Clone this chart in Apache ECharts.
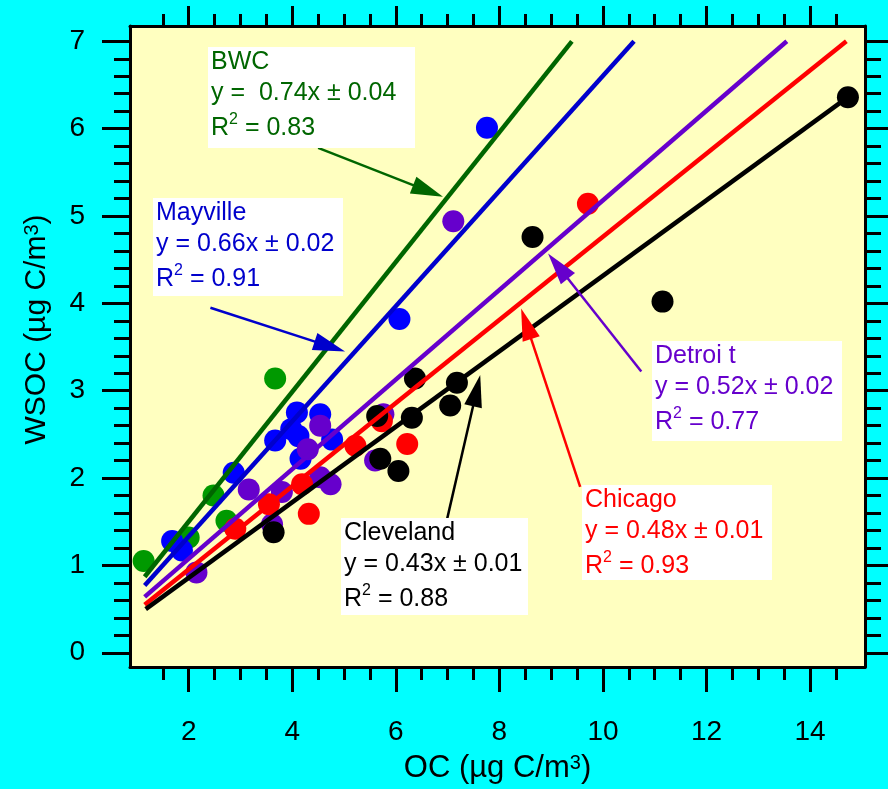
<!DOCTYPE html>
<html>
<head>
<meta charset="utf-8">
<script src="https://cdn.jsdelivr.net/npm/echarts@6/dist/echarts.min.js"></script>
<style>
html,body{margin:0;padding:0;background:#00FFFF;}
#chart{width:888px;height:789px;}
</style>
</head>
<body>
<div id="chart"></div>
<script>
// ---- data (x = OC, y = WSOC) ----
const bwcX = [1.13, 2.00, 2.48, 2.73, 3.67];
const bwcY = [1.05, 1.32, 1.80, 1.51, 3.14];
const mayX = [7.76, 6.07, 4.09, 4.54, 3.67, 3.98, 4.12, 4.16, 4.77, 2.87, 1.68, 1.87];
const mayY = [6.01, 3.82, 2.75, 2.73, 2.43, 2.56, 2.48, 2.22, 2.44, 2.06, 1.28, 1.17];
const detX = [7.11, 4.54, 4.30, 3.16, 4.54, 4.74, 3.80, 5.60, 5.76, 3.61, 2.15];
const detY = [4.94, 2.60, 2.33, 1.87, 2.01, 1.93, 1.84, 2.20, 2.73, 1.47, 0.92];
const chiX = [9.71, 5.73, 5.22, 6.22, 4.32, 4.19, 3.55, 2.90];
const chiY = [5.14, 2.65, 2.37, 2.39, 1.59, 1.93, 1.70, 1.42];
const cleX = [14.73, 8.64, 11.15, 7.18, 7.05, 6.37, 6.31, 5.64, 5.70, 6.05, 3.64];
const cleY = [6.36, 4.76, 4.02, 3.09, 2.83, 3.14, 2.69, 2.71, 2.22, 2.08, 1.38];

// regression line end points [x, y]
const bwcFit = [[1.15, 0.87], [9.40, 7.0]];
const mayFit = [[1.15, 0.77], [10.60, 7.0]];
const detFit = [[1.15, 0.64], [13.55, 7.0]];
const chiFit = [[1.15, 0.55], [14.70, 7.0]];
const cleFit = [[1.17, 0.50], [14.73, 6.36]];

// arrows [tail, tip] in data coordinates
const bwcArrow = [[4.50, 5.78], [6.91, 5.22]];
const mayArrow = [[2.42, 3.95], [5.02, 3.45]];
const detArrow = [[10.74, 3.22], [8.94, 4.57]];
const chiArrow = [[9.56, 1.90], [8.42, 3.94]];
const cleArrow = [[6.99, 1.53], [7.63, 3.18]];

// axis ticks
const xMajor = [2, 4, 6, 8, 10, 12, 14];
const xMinor = [1.5, 2.5, 3, 3.5, 4.5, 5, 5.5, 6.5, 7, 7.5, 8.5, 9, 9.5, 10.5, 11, 11.5, 12.5, 13, 13.5, 14.5];
const yMajor = [0, 1, 2, 3, 4, 5, 6, 7];
const yMinor = [0.2, 0.4, 0.6, 0.8, 1.2, 1.4, 1.6, 1.8, 2.2, 2.4, 2.6, 2.8, 3.2, 3.4, 3.6, 3.8,
                4.2, 4.4, 4.6, 4.8, 5.2, 5.4, 5.6, 5.8, 6.2, 6.4, 6.6, 6.8];
const xMin = 0.867, xMax = 15.06, yMin = -0.163, yMax = 7.175;

function pts(xs, ys) { return xs.map((x, i) => [x, ys[i]]); }

const chart = echarts.init(document.getElementById('chart'));
const narrow = '"Liberation Sans Narrow", "Liberation Sans", Arial, sans-serif';
const sans = '"Liberation Sans", Arial, sans-serif';

function xAx(opts) {
  return Object.assign({
    type: 'value', min: xMin, max: xMax, gridIndex: 0,
    splitLine: { show: false },
    axisLine: { show: false, onZero: false },
    axisLabel: { show: false },
    axisTick: { show: false }
  }, opts);
}
function yAx(opts) {
  return Object.assign({
    type: 'value', min: yMin, max: yMax, gridIndex: 0,
    splitLine: { show: false },
    axisLine: { show: false, onZero: false },
    axisLabel: { show: false },
    axisTick: { show: false }
  }, opts);
}
const lineBlack = { color: '#000', width: 3 };

const option = {
  backgroundColor: '#00FFFF',
  animation: false,
  grid: { left: 130, right: 23, top: 26, bottom: 121, show: true, backgroundColor: '#FFFFC0', borderWidth: 0 },
  xAxis: [
    xAx({ position: 'bottom',
      axisLine: { show: true, onZero: false, lineStyle: lineBlack },
      axisTick: { show: true, customValues: xMajor, length: 25, lineStyle: lineBlack },
      axisLabel: { show: true, customValues: xMajor, margin: 51, fontSize: 28, color: '#000', fontFamily: narrow },
      name: 'OC (\u00b5g C/m{sup|3})', nameLocation: 'middle', nameGap: 86,
      nameTextStyle: { fontSize: 31, color: '#000', fontFamily: narrow,
        rich: { sup: { fontSize: 20, verticalAlign: 'top', fontFamily: narrow, color: '#000' } } }
    }),
    xAx({ position: 'bottom', axisTick: { show: true, customValues: xMinor, length: 13, lineStyle: lineBlack } }),
    xAx({ position: 'top',
      axisLine: { show: true, onZero: false, lineStyle: lineBlack },
      axisTick: { show: true, customValues: xMajor, length: 20, lineStyle: lineBlack } }),
    xAx({ position: 'top', axisTick: { show: true, customValues: xMinor, length: 12, lineStyle: lineBlack } })
  ],
  yAxis: [
    yAx({ position: 'left',
      axisLine: { show: true, onZero: false, lineStyle: lineBlack },
      axisTick: { show: true, customValues: yMajor, length: 28, lineStyle: lineBlack },
      axisLabel: { show: true, customValues: yMajor, margin: 45, fontSize: 28, color: '#000', fontFamily: sans },
      name: 'WSOC (\u00b5g C/m{sup|3})', nameLocation: 'middle', nameGap: 78, nameRotate: 90,
      nameTextStyle: { fontSize: 30, color: '#000', fontFamily: sans, padding: [0, 0, 0, 34],
        rich: { sup: { fontSize: 20, verticalAlign: 'top', fontFamily: sans, color: '#000' } } }
    }),
    yAx({ position: 'left', axisTick: { show: true, customValues: yMinor, length: 16, lineStyle: lineBlack } }),
    yAx({ position: 'right',
      axisLine: { show: true, onZero: false, lineStyle: lineBlack },
      axisTick: { show: true, customValues: yMajor, length: 26, lineStyle: lineBlack } }),
    yAx({ position: 'right', axisTick: { show: true, customValues: yMinor, length: 16, lineStyle: lineBlack } })
  ],
  series: [
    { type: 'scatter', name: 'BWC', data: pts(bwcX, bwcY), symbolSize: 22, itemStyle: { color: '#009900', opacity: 1 }, z: 2 },
    { type: 'scatter', name: 'Mayville', data: pts(mayX, mayY), symbolSize: 22, itemStyle: { color: '#0000FF', opacity: 1 }, z: 2 },
    { type: 'scatter', name: 'Detroit', data: pts(detX, detY), symbolSize: 22, itemStyle: { color: '#6600CC', opacity: 1 }, z: 2 },
    { type: 'scatter', name: 'Chicago', data: pts(chiX, chiY), symbolSize: 22, itemStyle: { color: '#FF0000', opacity: 1 }, z: 2 },
    { type: 'scatter', name: 'Cleveland', data: pts(cleX, cleY), symbolSize: 22, itemStyle: { color: '#000000', opacity: 1 }, z: 2 },
    { type: 'line', data: bwcFit, symbol: 'none', lineStyle: { color: '#006600', width: 4.5 }, z: 3 },
    { type: 'line', data: mayFit, symbol: 'none', lineStyle: { color: '#0000CC', width: 4.5 }, z: 3 },
    { type: 'line', data: detFit, symbol: 'none', lineStyle: { color: '#6600CC', width: 4.5 }, z: 3 },
    { type: 'line', data: chiFit, symbol: 'none', lineStyle: { color: '#FF0000', width: 4.5 }, z: 3 },
    { type: 'line', data: cleFit, symbol: 'none', lineStyle: { color: '#000000', width: 4.5 }, z: 3 }
  ]
};

chart.setOption(option);

function box(x, y, w, h, color, lines) {
  const rich = { sup: { fontSize: 16, verticalAlign: 'top', fill: color, fontFamily: sans } };
  return {
    type: 'group', x: x, y: y, z: 10,
    children: [
      { type: 'rect', z: 10, shape: { x: 0, y: 0, width: w, height: h }, style: { fill: '#FFFFFF' } },
      { type: 'text', z: 11, x: 3, y: 15, style: { text: lines[0], fill: color, font: '25px ' + sans, verticalAlign: 'middle' } },
      { type: 'text', z: 11, x: 3, y: 46, style: { text: lines[1], fill: color, font: '25px ' + sans, verticalAlign: 'middle' } },
      { type: 'text', z: 11, x: 3, y: 81, style: { text: lines[2], fill: color, font: '25px ' + sans, verticalAlign: 'middle', lineHeight: 32, rich: rich } }
    ]
  };
}

// arrow annotation positioned through the chart's own coordinate conversion
function arrow(seg, color) {
  const a = chart.convertToPixel({ xAxisIndex: 0, yAxisIndex: 0 }, seg[0]);
  const b = chart.convertToPixel({ xAxisIndex: 0, yAxisIndex: 0 }, seg[1]);
  const dx = b[0] - a[0], dy = b[1] - a[1], L = Math.hypot(dx, dy);
  const ux = dx / L, uy = dy / L, len = 32, w = 18;
  const bx = b[0] - ux * len, by = b[1] - uy * len, px = -uy, py = ux;
  return {
    type: 'group', z: 8,
    children: [
      { type: 'line', z: 8, shape: { x1: a[0], y1: a[1], x2: bx + ux * 2, y2: by + uy * 2 }, style: { stroke: color, lineWidth: 2.5 } },
      { type: 'polygon', z: 8, shape: { points: [[b[0], b[1]], [bx + px * w / 2, by + py * w / 2], [bx - px * w / 2, by - py * w / 2]] }, style: { fill: color } }
    ]
  };
}

chart.setOption({
  graphic: [
    { type: 'text', x: 485, y: 7, z: 10, style: { text: 'ICARTT 2004', fill: '#000', font: 'bold 30px ' + sans, align: 'center', verticalAlign: 'bottom' } },
    arrow(bwcArrow, '#006600'),
    arrow(mayArrow, '#0000CC'),
    arrow(detArrow, '#6600CC'),
    arrow(chiArrow, '#FF0000'),
    arrow(cleArrow, '#000000'),
    box(208, 47, 207, 101, '#006600', ['BWC', 'y =  0.74x \u00b1 0.04', 'R{sup|2} = 0.83']),
    box(153, 198, 190, 98, '#0000CC', ['Mayville', 'y = 0.66x \u00b1 0.02', 'R{sup|2} = 0.91']),
    box(652, 341, 190, 100, '#6600CC', ['Detroi t', 'y = 0.52x \u00b1 0.02', 'R{sup|2} = 0.77']),
    box(582, 485, 190, 95, '#FF0000', ['Chicago', 'y = 0.48x \u00b1 0.01', 'R{sup|2} = 0.93']),
    box(341, 518, 187, 97, '#000000', ['Cleveland', 'y = 0.43x \u00b1 0.01', 'R{sup|2} = 0.88'])
  ]
});
</script>
</body>
</html>
